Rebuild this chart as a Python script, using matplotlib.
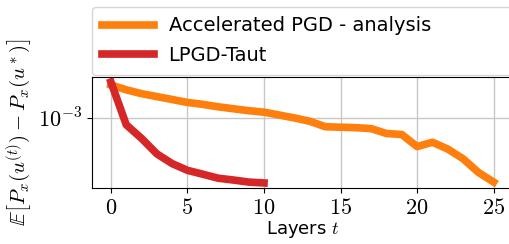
import matplotlib
matplotlib.use("Agg")
import matplotlib.pyplot as plt
from matplotlib.ticker import NullLocator, FixedLocator
import numpy as np

plt.rcParams["mathtext.fontset"] = "cm"
plt.rcParams["font.family"] = "DejaVu Sans"

# data (log scale values)
layers_apgd = np.arange(26)
loss_apgd = [1.686e-3, 1.561e-3, 1.468e-3, 1.402e-3, 1.339e-3, 1.278e-3,
             1.240e-3, 1.193e-3, 1.157e-3, 1.122e-3, 1.096e-3, 1.047e-3,
             1.000e-3, 0.948e-3, 0.871e-3, 0.864e-3, 0.858e-3, 0.845e-3,
             0.782e-3, 0.770e-3, 0.636e-3, 0.681e-3, 0.612e-3, 0.525e-3,
             0.423e-3, 0.363e-3]
layers_lpgd = np.arange(11)
loss_lpgd = [1.765e-3, 0.898e-3, 0.724e-3, 0.567e-3, 0.486e-3, 0.437e-3,
             0.411e-3, 0.386e-3, 0.375e-3, 0.363e-3, 0.358e-3]
labels = ["Accelerated PGD - analysis", "LPGD-Taut"]
x_ticks = [0, 5, 10, 15, 20, 25]

fig = plt.figure(figsize=(5.10, 2.44), dpi=100)
ax = fig.add_axes([0.180, 0.2295, 0.8255, 0.455])

ax.plot(layers_apgd, loss_apgd, color="#ff7f0e", lw=5.5, label=labels[0])
ax.plot(layers_lpgd, loss_lpgd, color="#d62728", lw=5.5, label=labels[1])
ax.set_yscale("log")
ax.yaxis.set_minor_locator(NullLocator())
ax.yaxis.set_major_locator(FixedLocator([1e-3]))
ax.set_yticklabels([r"$10^{-3}$"])
ax.set_xticks(x_ticks)
ax.set_xticklabels([f"${t}$" for t in x_ticks])
ax.tick_params(labelsize=16)
ax.grid(True, color="#c8c8c8", lw=1)

ax.set_xlabel(r"Layers $t$", fontsize=13, labelpad=1)
ax.set_ylabel(r"$\mathbb{E}\left[P_x(u^{(t)}) - P_x(u^*)\right]$", fontsize=15,
              labelpad=2)

ax.legend(bbox_to_anchor=(0, 1.02, 1, 0.2), loc="lower left", mode="expand",
          borderaxespad=0, fontsize=14, handlelength=2.7, handletextpad=0.75,
          borderpad=0.5, labelspacing=0.55)

fig.savefig("out.png", dpi=100)
